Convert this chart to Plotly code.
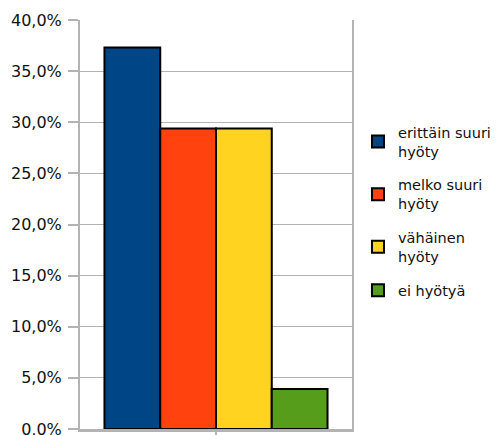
import plotly.graph_objects as go

category = ["Kysymys"]
series_names = ["erittäin suuri<br>hyöty", "melko suuri<br>hyöty", "vähäinen<br>hyöty", "ei hyötyä"]
series_values = [0.373, 0.294, 0.294, 0.039]
series_colors = ["#004586", "#ff420e", "#ffd320", "#579d1c"]
y_ticks = [0, 0.05, 0.10, 0.15, 0.20, 0.25, 0.30, 0.35, 0.40]

fig = go.Figure()
for i, (name, val, col) in enumerate(zip(series_names, series_values, series_colors)):
    fig.add_trace(go.Bar(
        x=category, y=[val], name=name, legendgroup=f"g{i}",
        marker=dict(color=col, line=dict(color="black", width=2)),
    ))

fig.update_layout(
    width=493, height=435,
    margin=dict(l=72, r=149, t=12, b=14, autoexpand=False),
    barmode="group", bargap=0.18, bargroupgap=0,
    plot_bgcolor="white", paper_bgcolor="white",
    separators=", ",
    font=dict(family="DejaVu Sans", size=16, color="#111111"),
    legend=dict(x=1.022, xanchor="left", y=0.765, yanchor="top",
                font=dict(size=14.5), bgcolor="rgba(0,0,0,0)",
                itemwidth=30, tracegroupgap=12),
    showlegend=True,
)
fig.update_xaxes(showticklabels=False, ticks="outside", ticklen=6, tickcolor="#b3b3b3",
                 tickwidth=2, showline=True, linecolor="#b3b3b3", linewidth=3, mirror=False,
                 showgrid=False, automargin=False)
fig.update_yaxes(range=[0, 0.4], tickvals=y_ticks, tickformat=".1%", ticks="outside",
                 ticklen=10, tickcolor="#b3b3b3", tickwidth=2, ticklabelstandoff=3,
                 showline=True, linecolor="#b3b3b3", linewidth=2, mirror=True,
                 showgrid=True, gridcolor="#b3b3b3", gridwidth=1, zeroline=False,
                 automargin=False)

fig.write_html("out.html")
